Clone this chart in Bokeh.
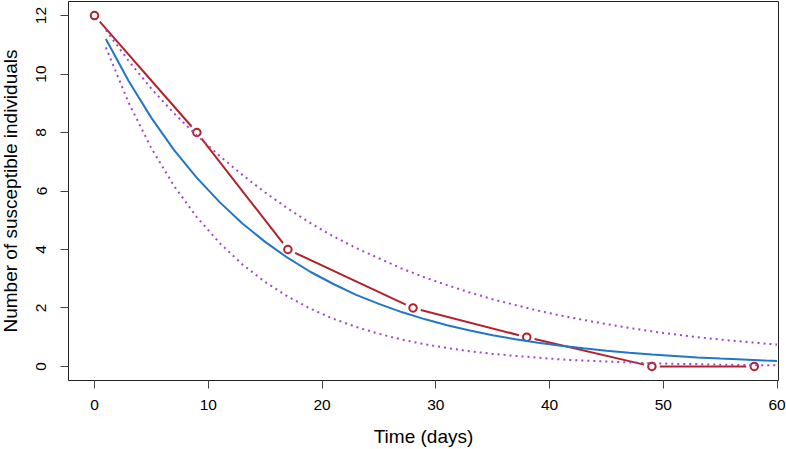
import math
from bokeh.plotting import figure
from bokeh.models import Range1d, FixedTicker
from bokeh.embed import file_html
from bokeh.resources import INLINE

# ---- data ----
obs_days = [0, 9, 17, 28, 38, 49, 58]
obs_susceptible = [12, 8, 4, 2, 1, 0, 0]

fit_days = [1, 3, 5, 7, 9, 11, 13, 15, 17, 19, 21, 23, 25, 27, 29, 31,
            33, 35, 37, 39, 41, 43, 45, 47, 49, 51, 53, 55, 57, 59, 60]
fit_mean = [11.20, 9.76, 8.50, 7.40, 6.45, 5.62, 4.89, 4.26, 3.71, 3.23,
            2.82, 2.45, 2.14, 1.86, 1.62, 1.41, 1.23, 1.07, 0.93, 0.81,
            0.71, 0.62, 0.54, 0.47, 0.41, 0.36, 0.31, 0.27, 0.24, 0.20, 0.19]
fit_upper = [11.50, 10.45, 9.50, 8.65, 7.90, 7.20, 6.55, 5.95, 5.40, 4.90,
             4.45, 4.05, 3.70, 3.35, 3.05, 2.78, 2.53, 2.30, 2.10, 1.91,
             1.74, 1.59, 1.45, 1.32, 1.20, 1.10, 1.00, 0.92, 0.85, 0.78, 0.75]
fit_lower = [10.91, 9.02, 7.46, 6.17, 5.10, 4.22, 3.49, 2.89, 2.39, 1.97,
             1.63, 1.35, 1.12, 0.92, 0.76, 0.63, 0.52, 0.43, 0.36, 0.30,
             0.24, 0.20, 0.17, 0.14, 0.11, 0.09, 0.08, 0.06, 0.05, 0.04, 0.04]

x_ticks = [0, 10, 20, 30, 40, 50, 60]
y_ticks = [0, 2, 4, 6, 8, 10, 12]
x_title = "Time (days)"
y_title = "Number of susceptible individuals"

# ---- styling / layout ----
RED = "#B2222A"
BLUE = "#2176C7"
PURPLE = "#A045CF"
FONT = "Liberation Sans"

SHIFT = 7                      # canvas starts 7px left of the page edge
W, H = 786 + SHIFT, 449
ML, MR, MT, MB = 68 + SHIFT, 8, 1, 68
x0, x1 = -2.286, 60.13
y0, y1 = -0.48, 12.48

p = figure(width=W, height=H, output_backend="svg", toolbar_location=None,
           x_range=Range1d(x0, x1), y_range=Range1d(y0, y1),
           min_border_left=ML, min_border_right=MR,
           min_border_top=MT, min_border_bottom=MB)
p.styles = {"margin-left": f"-{SHIFT}px"}
p.grid.visible = False
p.outline_line_color = "#222222"
p.outline_line_width = 1
p.background_fill_color = "white"
p.border_fill_color = "white"

fw, fh = W - ML - MR, H - MT - MB
sx, sy = fw / (x1 - x0), fh / (y1 - y0)

# observed: R type="b" -> segments with gaps around points
gap = 8.0
xs0, ys0, xs1, ys1 = [], [], [], []
for i in range(len(obs_days) - 1):
    xa, ya = obs_days[i], obs_susceptible[i]
    xb, yb = obs_days[i + 1], obs_susceptible[i + 1]
    L = math.hypot((xb - xa) * sx, (yb - ya) * sy)
    if L > 2 * gap:
        f = gap / L
        xs0.append(xa + (xb - xa) * f); ys0.append(ya + (yb - ya) * f)
        xs1.append(xb - (xb - xa) * f); ys1.append(yb - (yb - ya) * f)
p.segment(xs0, ys0, xs1, ys1, line_color=RED, line_width=2)
p.scatter(obs_days, obs_susceptible, size=7.5, marker="circle",
          fill_color=None, line_color=RED, line_width=2)

p.line(fit_days, fit_mean, line_color=BLUE, line_width=2)
p.line(fit_days, fit_upper, line_color=PURPLE, line_width=2, line_dash="2 4")
p.line(fit_days, fit_lower, line_color=PURPLE, line_width=2, line_dash="2 4")

# axes
for ax, ticks, lab in ((p.xaxis[0], x_ticks, x_title), (p.yaxis[0], y_ticks, y_title)):
    ax.ticker = FixedTicker(ticks=ticks)
    ax.bounds = (ticks[0], ticks[-1])
    ax.axis_line_color = None
    ax.major_tick_line_color = "#444444"
    ax.major_tick_line_width = 1
    ax.major_tick_out = 8
    ax.major_tick_in = 0
    ax.minor_tick_line_color = None
    ax.major_label_text_font = FONT
    ax.major_label_text_font_size = "15.5px"
    ax.major_label_text_color = "black"
    ax.axis_label = lab
    ax.axis_label_text_font = FONT
    ax.axis_label_text_font_size = "19px"
    ax.axis_label_text_font_style = "normal"
    ax.axis_label_text_color = "black"

p.xaxis[0].major_label_standoff = 11
p.xaxis[0].axis_label_standoff = 13
p.yaxis[0].major_label_orientation = "vertical"
p.yaxis[0].major_label_standoff = 14
p.yaxis[0].axis_label_standoff = 13

open("out.html", "w").write(file_html(p, INLINE))
